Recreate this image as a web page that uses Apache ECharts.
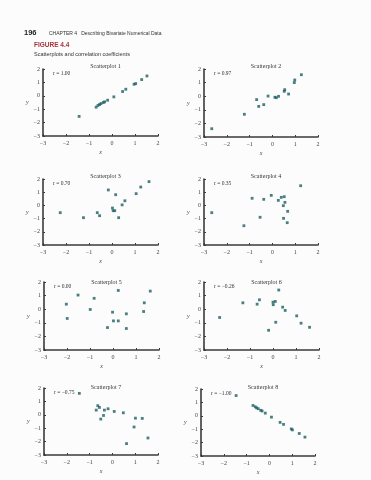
<!DOCTYPE html>
<html><head><meta charset="utf-8">
<script src="https://cdn.jsdelivr.net/npm/echarts@6/dist/echarts.min.js"></script>
<style>html,body{margin:0;padding:0;background:#fcfcfc;}#c{width:371px;height:480px;}</style>
</head><body><div id="c"></div>
<script>
const plotTitles = ["Scatterplot 1","Scatterplot 2","Scatterplot 3","Scatterplot 4","Scatterplot 5","Scatterplot 6","Scatterplot 7","Scatterplot 8"];
const rLabels = ["r = 1.00","r = 0.97","r = 0.70","r = 0.35","r = 0.00","r = \u22120.26","r = \u22120.75","r = \u22121.00"];
const xTicks = [-3,-2,-1,0,1,2];
const yTicks = [-3,-2,-1,0,1,2];

const x1 = [-1.43,-0.69,-0.61,-0.54,-0.48,-0.38,-0.32,-0.19,0.08,0.46,0.60,0.96,1.03,1.29,1.52];
const y1 = [-1.54,-0.85,-0.72,-0.65,-0.58,-0.50,-0.45,-0.33,-0.08,0.32,0.49,0.86,0.91,1.21,1.48];
const x2 = [-2.66,-1.23,-0.69,-0.60,-0.38,-0.19,0.11,0.17,0.27,0.52,0.54,0.71,0.96,0.98,1.27];
const y2 = [-2.39,-1.33,-0.25,-0.75,-0.62,0.01,-0.08,-0.11,-0.01,0.36,0.48,0.16,1.00,1.19,1.58];
const x3 = [-2.25,-1.24,-0.64,-0.54,-0.16,0.16,0.02,0.05,0.12,0.29,0.44,0.56,1.05,1.25,1.61];
const y3 = [-0.55,-0.93,-0.55,-0.78,1.17,0.81,-0.20,-0.40,-0.40,-0.93,0.04,0.35,0.89,1.39,1.80];
const x4 = [-2.66,-1.25,-0.89,-0.54,-0.38,-0.05,0.26,0.39,0.52,0.55,0.48,0.67,0.49,0.65,1.24];
const y4 = [-0.55,-1.54,0.54,-0.90,0.46,0.76,0.38,0.61,0.66,0.23,-0.02,-0.45,-0.98,-1.31,1.49];
const x5 = [-2.03,-1.99,-1.52,-0.99,-0.82,-0.24,-0.02,0.02,0.23,0.23,0.58,0.58,1.33,1.36,1.62];
const y5 = [0.37,-0.68,1.04,-0.02,0.80,-1.35,-0.22,-0.86,1.38,-0.86,-0.34,-1.42,-0.17,0.47,1.33];
const x6 = [-2.32,-1.31,-0.69,-0.59,-0.19,0.00,0.01,0.10,0.12,0.25,0.42,0.53,1.03,1.22,1.59];
const y6 = [-0.61,0.47,0.37,0.69,-1.55,0.52,0.33,0.57,-0.96,1.41,0.15,-0.09,-0.49,-1.03,-1.33];
const x7 = [-1.45,-0.71,-0.64,-0.57,-0.51,-0.39,-0.35,-0.19,0.08,0.48,0.62,0.95,1.01,1.31,1.56];
const y7 = [1.60,0.35,0.68,0.55,-0.32,-0.05,0.35,0.45,0.25,0.15,-2.15,-0.91,-0.25,-0.27,-1.73];
const x8 = [-1.46,-0.72,-0.62,-0.56,-0.49,-0.38,-0.32,-0.18,0.09,0.47,0.62,0.96,1.01,1.31,1.56];
const y8 = [1.51,0.77,0.67,0.59,0.53,0.41,0.36,0.20,-0.10,-0.49,-0.64,-0.98,-1.05,-1.32,-1.59];

const xs = [x1,x2,x3,x4,x5,x6,x7,x8];
const ys = [y1,y2,y3,y4,y5,y6,y7,y8];

// grid boxes [left, top, width, height]
const boxes = [
  [43,69,115,67],[204,69,114,68],
  [43,179,115,66],[204,179,114,66],
  [44,282,115,68],[204,282,115,68],
  [44,388,114,67],[201,389,114,67]
];
const titleTops = [58,168,274,379];

const serif = "'Liberation Serif','DejaVu Serif',serif";
const sans = "'Liberation Sans','DejaVu Sans',sans-serif";
const axisCol = '#3a3a3a';

const grid=[], xAxis=[], yAxis=[], series=[], title=[];
boxes.forEach((b,i)=>{
  grid.push({left:b[0],top:b[1],width:b[2],height:b[3]});
  xAxis.push({gridIndex:i,type:'value',min:xTicks[0],max:xTicks[xTicks.length-1],interval:1,
    name:'x',nameLocation:'middle',nameGap:13,
    nameTextStyle:{fontFamily:serif,fontStyle:'italic',fontSize:6,color:'#444'},
    axisLine:{show:true,onZero:false,lineStyle:{color:axisCol,width:1.6}},
    axisTick:{show:true,inside:true,length:2,lineStyle:{color:axisCol}},
    axisLabel:{fontFamily:serif,fontSize:6,color:'#444',margin:4,
      formatter:v=>v<0?'\u2212'+Math.abs(v):String(v)},
    splitLine:{show:false}});
  yAxis.push({gridIndex:i,type:'value',min:yTicks[0],max:yTicks[yTicks.length-1],interval:1,
    name:'y',nameLocation:'middle',nameGap:12,nameRotate:0,
    nameTextStyle:{fontFamily:serif,fontStyle:'italic',fontSize:6,color:'#444'},
    axisLine:{show:true,onZero:false,lineStyle:{color:axisCol,width:1.6}},
    axisTick:{show:true,inside:true,length:2,lineStyle:{color:axisCol}},
    axisLabel:{fontFamily:serif,fontSize:6,color:'#444',margin:3,
      formatter:v=>v<0?'\u2212'+Math.abs(v):String(v)},
    splitLine:{show:false}});
  series.push({type:'scatter',xAxisIndex:i,yAxisIndex:i,symbol:'rect',symbolSize:2.8,
    itemStyle:{color:'#1d5f63'},data:xs[i].map((x,k)=>[x,ys[i][k]])});
  title.push({text:plotTitles[i],left:b[0]+b[2]/2,textAlign:'center',top:titleTops[Math.floor(i/2)],
    textStyle:{fontFamily:serif,fontSize:6,fontWeight:'normal',color:'#333'}});
  title.push({text:rLabels[i],left:b[0]+5,top:b[1]-3,
    textStyle:{fontFamily:serif,fontSize:5.5,fontWeight:'normal',color:'#333'}});
});
title.push({text:'196',left:19,top:24,textStyle:{fontFamily:sans,fontSize:7.5,fontWeight:'bold',color:'#222'}});
title.push({text:'CHAPTER 4   Describing Bivariate Numerical Data',left:44,top:26,textStyle:{fontFamily:sans,fontSize:5,fontWeight:'normal',color:'#333'}});
title.push({text:'FIGURE 4.4',left:29,top:37,textStyle:{fontFamily:sans,fontSize:6.5,fontWeight:'bold',color:'#a8323c'}});
title.push({text:'Scatterplots and correlation coefficients',left:29,top:46,textStyle:{fontFamily:sans,fontSize:5.5,fontWeight:'normal',color:'#333'}});

const chart = echarts.init(document.getElementById('c'),null,{renderer:'canvas'});
chart.setOption({animation:false,backgroundColor:'#fcfcfc',title,grid,xAxis,yAxis,series});
</script></body></html>
